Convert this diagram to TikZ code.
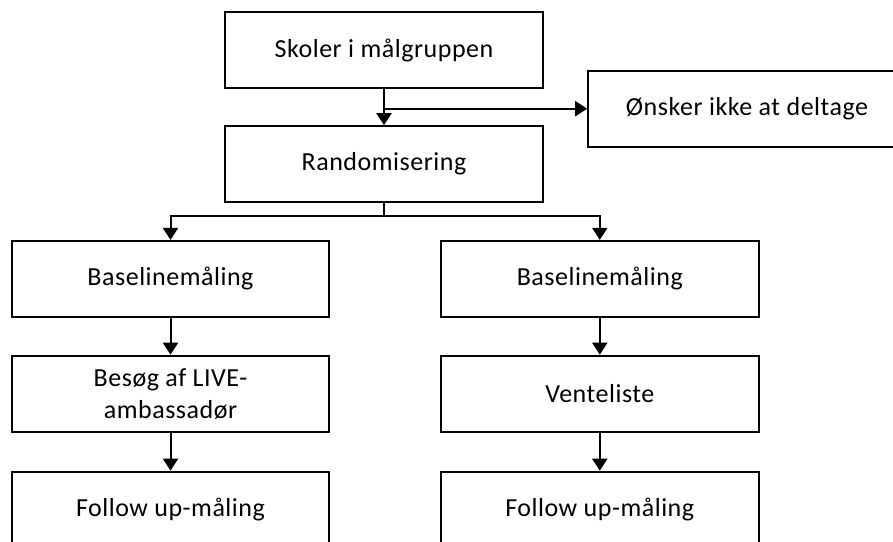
\documentclass[tikz,border=0pt]{standalone}
\usepackage{fontspec}
\setmainfont{Carlito}[LetterSpace=2]
\usetikzlibrary{arrows.meta}
\tikzset{
  box/.style={draw=black, line width=1.5pt, minimum width=238.2pt, minimum height=57pt,
    inner sep=0pt, align=center, font=\fontsize{19.5pt}{23.8pt}\selectfont},
  conn/.style={draw=black, line width=1.5pt},
  arr/.style={conn, -{Triangle[width=11.25pt,length=9pt]}}
}
\begin{document}
\begin{tikzpicture}[x=0.75pt,y=-0.75pt]
\useasboundingbox (0,0) rectangle (893,542);
\clip (0,0) rectangle (893,542);
\node[box] (sk) at (384,50.5) {Skoler i målgruppen};
\node[box] (rd) at (384,164.2) {Randomisering};
\node[box] (on) at (747,108.7) {Ønsker ikke at deltage};
\node[box] (bl1) at (170.5,278.9) {Baselinemåling};
\node[box] (bs) at (170.5,393.7) {Besøg af LIVE-\\ambassadør};
\node[box] (fu1) at (170.5,509.7) {Follow up-måling};
\node[box] (bl2) at (599.8,278.9) {Baselinemåling};
\node[box] (vl) at (599.8,393.7) {Venteliste};
\node[box] (fu2) at (599.8,509.7) {Follow up-måling};
\coordinate (j1) at (sk.south |- on.west);
\coordinate (j2) at (384,215.7);
\draw[arr] (sk.south) -- (rd.north);
\draw[arr] (j1) -- (on.west);
\draw[conn] (rd.south) -- (j2);
\draw[arr] (j2) -| (bl1.north);
\draw[arr] (j2) -| (bl2.north);
\draw[arr] (bl1.south) -- (bs.north);
\draw[arr] (bs.south) -- (fu1.north);
\draw[arr] (bl2.south) -- (vl.north);
\draw[arr] (vl.south) -- (fu2.north);
\end{tikzpicture}
\end{document}
